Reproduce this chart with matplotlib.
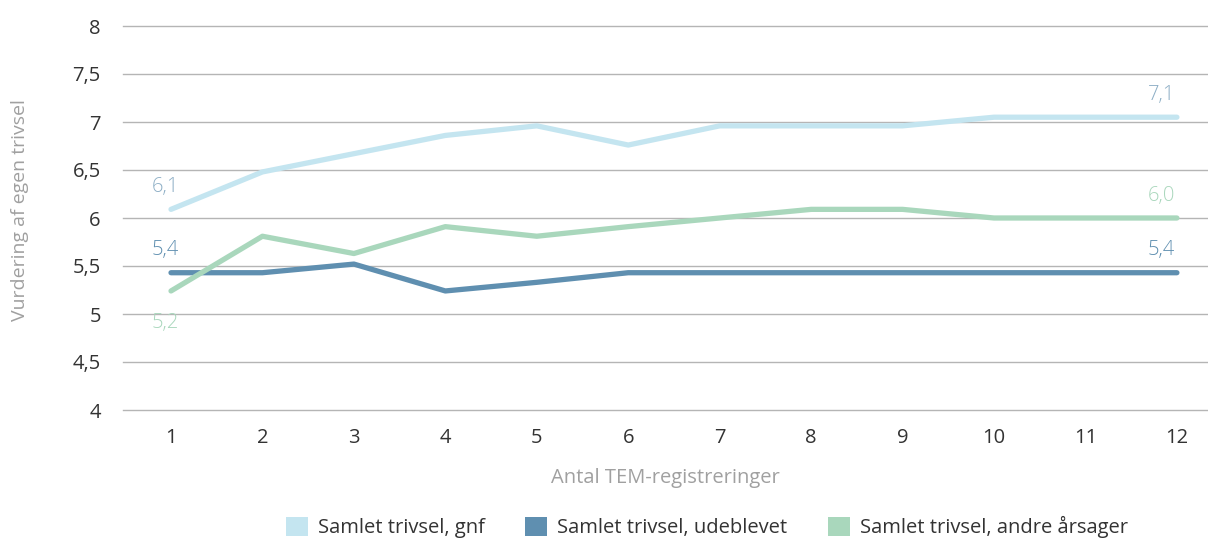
import matplotlib.pyplot as plt
from matplotlib.patches import Patch

plt.rcParams['font.family'] = ['Open Sans', 'DejaVu Sans']

x = list(range(1, 13))
gnf = [6.09, 6.48, 6.67, 6.86, 6.96, 6.76, 6.96, 6.96, 6.96, 7.05, 7.05, 7.05]
udeblevet = [5.43, 5.43, 5.52, 5.24, 5.33, 5.43, 5.43, 5.43, 5.43, 5.43, 5.43, 5.43]
andre = [5.24, 5.81, 5.63, 5.91, 5.81, 5.91, 6.0, 6.09, 6.09, 6.0, 6.0, 6.0]
names = ['Samlet trivsel, gnf', 'Samlet trivsel, udeblevet', 'Samlet trivsel, andre årsager']
start_labels = ['6,1', '5,4', '5,2']
end_labels = ['7,1', '5,4', '6,0']
yticks = [4, 4.5, 5, 5.5, 6, 6.5, 7, 7.5, 8]

colors = ['#c4e5f0', '#5f8fb0', '#a9d7bc']
label_colors = ['#8eafc6', '#5f8fb0', '#a9d7bc']

fig = plt.figure(figsize=(12.08, 5.39), dpi=100)
ax = fig.add_axes([123 / 1208, 129 / 539, 1 - 123 / 1208, 384 / 539])

for y in yticks:
    ax.axhline(y, color='#b5b5b5', lw=1, zorder=0, clip_on=False)

series = [gnf, udeblevet, andre]
for vals, c in zip(series, colors):
    ax.plot(x, vals, color=c, lw=3.8, solid_capstyle='round', zorder=2)

# start / end labels
start_off = [(-4, 9), (-4, 9), (-4, -30)]
end_off = [(-11, 9), (-11, 9), (-11, 9)]
for vals, sl, el, lc, so, eo in zip(series, start_labels, end_labels, label_colors, start_off, end_off):
    ax.annotate(sl, (x[0], vals[0]), xytext=so, textcoords='offset points',
                ha='center', va='bottom', fontsize=14.5, color=lc, fontweight='light')
    ax.annotate(el, (x[-1], vals[-1]), xytext=eo, textcoords='offset points',
                ha='center', va='bottom', fontsize=14.5, color=lc, fontweight='light')

ax.set_xlim(0.475, 12.34)
ax.set_ylim(4, 8)
ax.set_xticks(x)
ax.set_yticks(yticks)
ax.set_yticklabels([f'{t:g}'.replace('.', ',') for t in yticks])
ax.tick_params(length=0, labelsize=14.5, labelcolor='#333333')
ax.tick_params(axis='y', pad=16)
ax.tick_params(axis='x', pad=13)
for s in ax.spines.values():
    s.set_visible(False)

ax.set_xlabel('Antal TEM-registreringer', fontsize=14.5, color='#a0a0a0', labelpad=14)
fig.text(20 / 1208, 1 - 210 / 539, 'Vurdering af egen trivsel', rotation=90,
         fontsize=14, color='#a0a0a0', ha='center', va='center')

handles = [Patch(facecolor=c, edgecolor='none') for c in colors]
fig.legend(handles, names, loc='center', bbox_to_anchor=(707 / 1208, 1 - 527 / 539),
           ncol=3, frameon=False, fontsize=14.5, handlelength=1.1, handleheight=1.1,
           columnspacing=2.0, handletextpad=0.5, labelcolor='#333333')

fig.savefig('out.png', dpi=100)
